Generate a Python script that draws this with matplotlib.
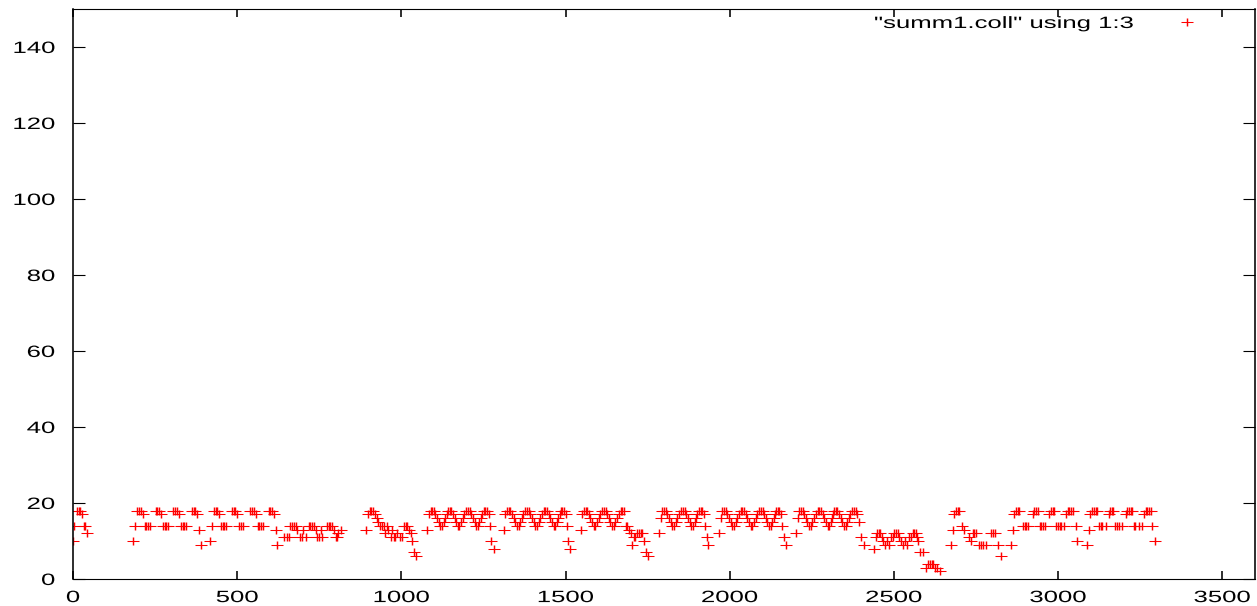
import matplotlib.pyplot as plt
from matplotlib.legend_handler import HandlerTuple
from matplotlib.patheffects import AbstractPathEffect
from matplotlib.transforms import Affine2D

plt.rcParams['font.family'] = 'Liberation Sans'

# summ1.coll: column 1 (step) against column 3 (collisions), in runs
run_a = [(0, 10), (4, 14), (12, 18), (17, 18), (22, 18), (28, 17), (33, 14), (37, 14), (44, 12)]

run_b = [(183, 10), (190, 14), (196, 18), (201, 18), (206, 18), (212, 17), (218, 14), (223, 14),
         (228, 14), (233, 14), (252, 18), (257, 18), (262, 18), (268, 17), (273, 14), (279, 14),
         (284, 14), (289, 14), (306, 18), (311, 18), (316, 18), (322, 17), (328, 14), (334, 14),
         (339, 14), (345, 14), (362, 18), (367, 18), (372, 18), (378, 17), (383, 13), (389, 9),
         (418, 10), (424, 14), (429, 18), (434, 18), (439, 18), (444, 17), (450, 14), (456, 14),
         (461, 14), (467, 14), (484, 18), (489, 18), (494, 18), (500, 17), (505, 14), (511, 14),
         (517, 14), (540, 18), (545, 18), (550, 18), (556, 17), (562, 14), (567, 14), (572, 14),
         (580, 14), (596, 18), (601, 18), (607, 18), (612, 17), (617, 13), (622, 9)]

run_c = [(642, 11), (652, 11), (657, 11), (662, 14), (667, 14), (673, 14), (678, 14), (683, 13),
         (691, 11), (696, 11), (701, 13), (711, 11), (718, 14), (723, 14), (728, 14), (733, 14),
         (739, 13), (744, 11), (749, 11), (754, 13), (759, 11), (774, 14), (779, 14), (784, 14),
         (789, 14), (795, 13), (800, 11), (803, 11), (808, 12), (815, 13)]

run_d = [(891, 13), (899, 17), (904, 18), (909, 18), (914, 18), (920, 17), (925, 16), (930, 15),
         (935, 14), (940, 14), (946, 14), (950, 12), (955, 14), (960, 13), (967, 11), (972, 13),
         (977, 11), (982, 11), (987, 12), (997, 11), (1003, 11), (1008, 14), (1013, 14), (1018, 14),
         (1023, 13), (1028, 12), (1033, 10), (1038, 7), (1044, 6)]

run_e = [(1079, 13), (1084, 17), (1089, 18), (1094, 18), (1099, 18), (1104, 17), (1109, 16),
         (1114, 15), (1119, 14), (1124, 14), (1129, 15), (1134, 16), (1138, 17), (1142, 18),
         (1147, 18), (1152, 18), (1157, 17), (1162, 16), (1167, 15), (1172, 14), (1177, 14),
         (1182, 15), (1187, 16), (1192, 17), (1198, 18), (1203, 18), (1208, 18), (1213, 17),
         (1218, 16), (1223, 15), (1228, 14), (1233, 14), (1238, 15), (1242, 16), (1246, 17),
         (1251, 18), (1256, 18), (1261, 18), (1266, 17), (1270, 14), (1273, 10), (1282, 8),
         (1312, 13), (1317, 17), (1322, 18), (1327, 18), (1332, 18), (1337, 17), (1342, 16),
         (1347, 15), (1352, 14), (1357, 14), (1362, 15), (1367, 16), (1372, 17), (1378, 18),
         (1383, 18), (1388, 18), (1393, 17), (1398, 16), (1403, 15), (1408, 14), (1413, 14),
         (1418, 15), (1423, 16), (1428, 17), (1434, 18), (1439, 18), (1444, 18), (1449, 17),
         (1454, 16), (1459, 15), (1464, 14), (1469, 14), (1474, 15), (1478, 16), (1482, 17),
         (1485, 18), (1490, 18), (1495, 18), (1500, 17), (1505, 14), (1507, 10), (1515, 8),
         (1546, 13), (1551, 17), (1556, 18), (1561, 18), (1566, 18), (1571, 17), (1576, 16),
         (1581, 15), (1586, 14), (1591, 14), (1596, 15), (1601, 16), (1606, 17), (1612, 18),
         (1617, 18), (1622, 18), (1627, 17), (1632, 16), (1637, 15), (1642, 14), (1647, 14),
         (1652, 15), (1657, 16), (1662, 17), (1668, 18), (1673, 18), (1678, 18), (1683, 14),
         (1688, 14), (1693, 13), (1698, 12), (1703, 9), (1708, 11), (1713, 11), (1718, 12),
         (1723, 12), (1729, 12), (1734, 12), (1739, 10), (1744, 7), (1751, 6)]

run_f = [(1784, 12), (1790, 16), (1795, 18), (1800, 18), (1805, 18), (1810, 17), (1815, 16),
         (1820, 15), (1825, 14), (1830, 14), (1835, 15), (1840, 16), (1845, 17), (1853, 18),
         (1858, 18), (1863, 18), (1868, 17), (1873, 16), (1878, 15), (1883, 14), (1888, 14),
         (1893, 15), (1897, 16), (1902, 17), (1907, 18), (1912, 18), (1917, 18), (1922, 17),
         (1926, 14), (1930, 11), (1935, 9), (1968, 12), (1973, 16), (1978, 18), (1983, 18),
         (1988, 18), (1993, 17), (1998, 16), (2003, 15), (2008, 14), (2013, 14), (2018, 15),
         (2023, 16), (2028, 17), (2034, 18), (2039, 18), (2044, 18), (2049, 17), (2054, 16),
         (2059, 15), (2064, 14), (2069, 14), (2074, 15), (2079, 16), (2084, 17), (2090, 18),
         (2095, 18), (2100, 18), (2105, 17), (2110, 16), (2115, 15), (2120, 14), (2125, 14),
         (2130, 15), (2134, 16), (2138, 17), (2141, 18), (2146, 18), (2151, 18), (2156, 17),
         (2160, 14), (2164, 11), (2171, 9), (2201, 12), (2207, 16), (2212, 18), (2217, 18),
         (2222, 18), (2227, 17), (2232, 16), (2237, 15), (2242, 14), (2247, 14), (2252, 15),
         (2257, 16), (2262, 17), (2268, 18), (2273, 18), (2278, 18), (2283, 17), (2288, 16),
         (2293, 15), (2298, 14), (2303, 14), (2308, 15), (2312, 16), (2316, 17), (2318, 18),
         (2323, 18), (2328, 18), (2333, 17), (2338, 16), (2343, 15), (2348, 14), (2353, 14),
         (2358, 15), (2363, 16), (2368, 17), (2374, 18), (2379, 18), (2384, 18), (2389, 17),
         (2394, 15), (2400, 11), (2408, 9)]

run_g = [(2439, 8), (2445, 11), (2449, 12), (2454, 12), (2459, 12), (2464, 11), (2468, 10),
         (2472, 9), (2478, 10), (2484, 9), (2490, 11), (2497, 11), (2502, 12), (2507, 12),
         (2512, 12), (2517, 11), (2522, 10), (2527, 9), (2533, 10), (2540, 9), (2545, 11),
         (2552, 11), (2557, 12), (2562, 12), (2567, 12), (2572, 11), (2575, 10), (2581, 7),
         (2590, 7), (2598, 3), (2605, 4), (2610, 4), (2615, 4), (2620, 4), (2625, 3), (2632, 3),
         (2642, 2)]

run_h = [(2674, 9), (2679, 13), (2684, 17), (2690, 18), (2695, 18), (2700, 18), (2708, 14),
         (2715, 13), (2730, 11), (2735, 10), (2740, 12), (2745, 12), (2750, 12), (2760, 9),
         (2766, 9), (2771, 9), (2781, 9), (2797, 12), (2802, 12), (2808, 12), (2816, 9),
         (2825, 6), (2857, 9), (2862, 13), (2867, 17), (2872, 18), (2877, 18), (2882, 18)]

run_i = [(2893, 14), (2898, 14), (2903, 14), (2908, 14), (2923, 17), (2928, 18), (2933, 18),
         (2938, 18), (2944, 14), (2949, 14), (2954, 14), (2959, 14), (2974, 17), (2979, 18),
         (2984, 18), (2989, 18), (2995, 14), (3000, 14), (3005, 14), (3010, 14), (3018, 14),
         (3023, 17), (3030, 18), (3035, 18), (3040, 18), (3045, 18), (3054, 14), (3059, 10),
         (3089, 9), (3094, 13), (3099, 17), (3105, 18), (3110, 18), (3115, 18), (3120, 18),
         (3125, 14), (3130, 14), (3135, 14), (3145, 14), (3155, 17), (3158, 18), (3163, 18),
         (3168, 18), (3175, 14), (3180, 14), (3185, 14), (3196, 14), (3206, 17), (3211, 18),
         (3216, 18), (3221, 18), (3226, 18), (3231, 14), (3236, 14), (3246, 14), (3257, 14),
         (3262, 17), (3267, 18), (3272, 18), (3277, 18), (3282, 18), (3287, 14), (3294, 10)]

runs = [run_a, run_b, run_c, run_d, run_e, run_f, run_g, run_h, run_i]
steps = [p[0] for run in runs for p in run]
colls = [p[1] for run in runs for p in run]

x_ticks = [0, 500, 1000, 1500, 2000, 2500, 3000, 3500]
y_ticks = [0, 20, 40, 60, 80, 100, 120, 140]
key_label = '"summ1.coll" using 1:3'

SX = 1.57  # the terminal output is wider than it is tall


class WideText(AbstractPathEffect):
    """Stretch glyphs sideways about one end (or the middle) of the string."""

    def __init__(self, anchor='center'):
        super().__init__()
        self.anchor = anchor

    def draw_path(self, renderer, gc, tpath, affine, rgbFace=None):
        bb = tpath.get_extents()
        if self.anchor == 'right':
            x0 = bb.x1
        elif self.anchor == 'left':
            x0 = bb.x0
        else:
            x0 = (bb.x0 + bb.x1) / 2
        stretch = Affine2D().translate(-x0, 0).scale(SX, 1).translate(x0, 0)
        renderer.draw_path(gc, tpath, stretch + affine, rgbFace)


fig = plt.figure(figsize=(12.57, 6.06), dpi=100)
ax = fig.add_axes([0.0581, 0.0446, 0.9403, 0.9406])

red = '#ff0000'
h_bar, = ax.plot(steps, colls, ls='none', marker='_', ms=8.4, mew=0.75, color=red)
v_bar, = ax.plot(steps, colls, ls='none', marker='|', ms=5.8, mew=1.05, color=red)

ax.set_xlim(0, 3600)
ax.set_ylim(0, 150)
ax.set_xticks(x_ticks)
ax.set_yticks(y_ticks)

ax.tick_params(direction='in', top=True, right=True, colors='black', labelsize=11.8)
ax.tick_params(axis='x', length=5.8, width=1.15, pad=8)
ax.tick_params(axis='y', length=8.6, width=0.8, pad=13)
for side in ['left', 'right']:
    ax.spines[side].set_linewidth(1.15)
for side in ['top', 'bottom']:
    ax.spines[side].set_linewidth(0.8)

for lbl in ax.get_xticklabels():
    lbl.set_path_effects([WideText('center')])
for lbl in ax.get_yticklabels():
    lbl.set_path_effects([WideText('right')])

leg = ax.legend([(h_bar, v_bar)], [key_label], handler_map={tuple: HandlerTuple(ndivide=1)},
                loc='upper right', bbox_to_anchor=(0.9563, 0.9877), markerfirst=False,
                frameon=False, fontsize=11.8, handlelength=2, handletextpad=2.29,
                borderpad=0, borderaxespad=0)
for txt in leg.get_texts():
    txt.set_path_effects([WideText('right')])

plt.savefig('out.png')
